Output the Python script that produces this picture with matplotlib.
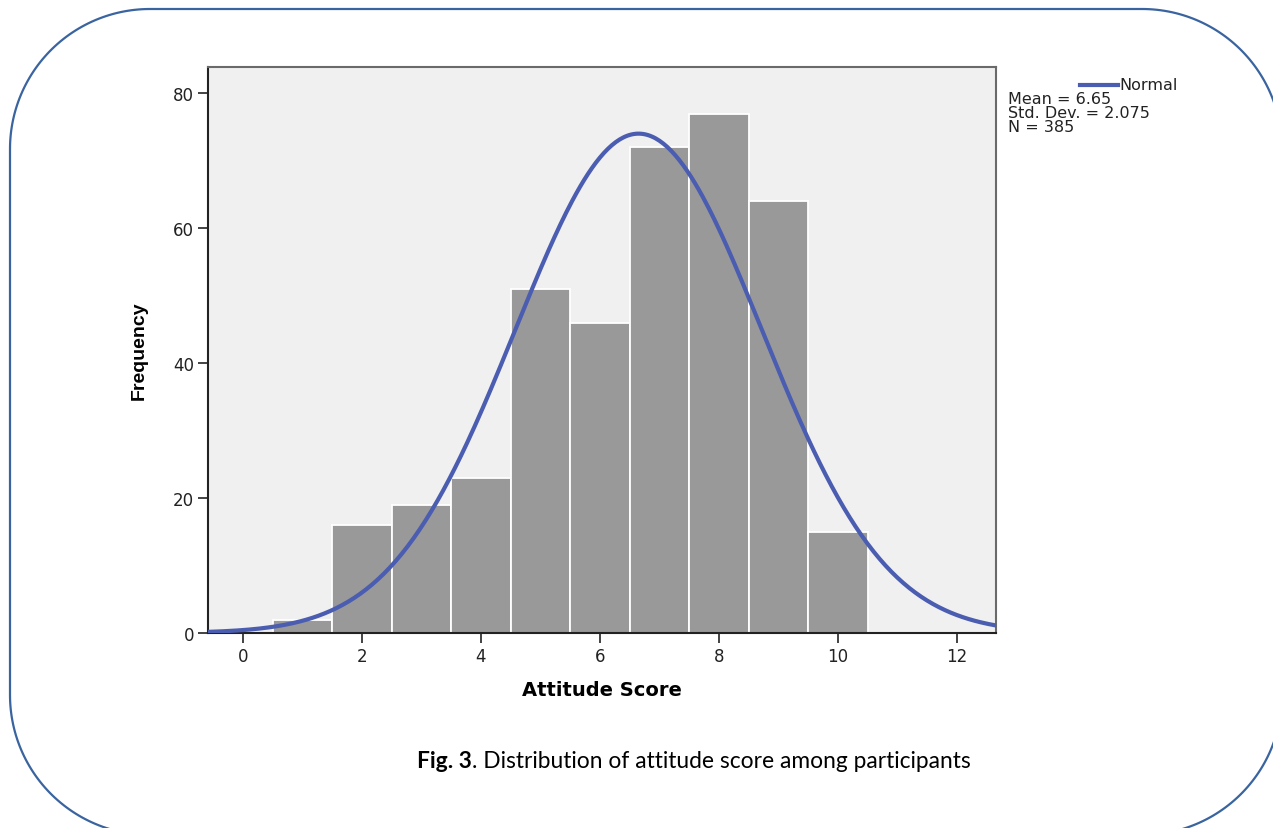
import numpy as np
import matplotlib
matplotlib.use("Agg")
import matplotlib.pyplot as plt
from matplotlib.patches import Polygon

# Data
scores = [1, 2, 3, 4, 5, 6, 7, 8, 9, 10]
frequency = [2, 16, 19, 23, 51, 46, 72, 77, 64, 15]
mean_val = 6.65
std_val = 2.075
n_val = 385
xticks = [0, 2, 4, 6, 8, 10, 12]
yticks = [0, 20, 40, 60, 80]
caption_bold = "Fig. 3"
caption_rest = ". Distribution of attitude score among participants"

W, H = 1273, 829
fig = plt.figure(figsize=(W / 100, H / 100), dpi=100)

# background axes in pixel coordinates (origin top-left) for the rounded border
bg = fig.add_axes([0, 0, 1, 1])
bg.set_xlim(0, W)
bg.set_ylim(H, 0)
bg.axis("off")
L, T, R, B, rad = 10, 10, 1282, 836, 140
pts = []
for (cx, cy, a0) in [(R - rad, T + rad, -90), (R - rad, B - rad, 0),
                     (L + rad, B - rad, 90), (L + rad, T + rad, 180)]:
    ang = np.deg2rad(np.linspace(a0, a0 + 90, 60))
    pts += list(zip(cx + rad * np.cos(ang), cy + rad * np.sin(ang)))
bg.add_patch(Polygon(pts, closed=True, fill=False, edgecolor="#3a64a0",
                     linewidth=1.6))

ax = fig.add_axes([208 / W, 1 - 634 / H, 788 / W, 566 / H])
ax.set_facecolor("#f0f0f0")
ax.bar(scores, frequency, width=1.0, color="#999999", edgecolor="white",
       linewidth=1.3, zorder=2)

xs = np.linspace(-0.6, 12.7, 400)
pdf = n_val * 1.0 / (std_val * np.sqrt(2 * np.pi)) * np.exp(-0.5 * ((xs - mean_val) / std_val) ** 2)
ax.plot(xs, pdf, color="#4a5db0", linewidth=3, zorder=3, solid_capstyle="butt")

ax.set_xlim(-0.59, 12.66)
ax.set_ylim(0, 83.9)
ax.set_xticks(xticks)
ax.set_yticks(yticks)
tick_font = "DejaVu Sans"
ax.set_xticklabels([str(t) for t in xticks], fontsize=12, fontfamily=tick_font, color="#222222")
ax.set_yticklabels([str(t) for t in yticks], fontsize=12, fontfamily=tick_font, color="#222222")
ax.tick_params(axis="both", direction="out", length=7, width=1.2, color="#222222", pad=3)
for s in ax.spines.values():
    s.set_color("#6a6a6a")
    s.set_linewidth(1.5)
ax.spines["left"].set_color("#222222")
ax.spines["bottom"].set_color("#222222")

ax.set_xlabel("Attitude Score", fontsize=14, fontweight="bold",
              fontfamily=tick_font, labelpad=11)
ax.set_ylabel("Frequency", fontsize=14, fontweight="bold",
              fontfamily=["Liberation Sans Narrow", "Liberation Sans", "DejaVu Sans"], labelpad=18)

# legend-like text
lfs = 11.5
fig.lines.append(plt.Line2D([1080 / W, 1118 / W], [1 - 86 / H, 1 - 86 / H],
                            transform=fig.transFigure, color="#4a5db0", linewidth=3))
fig.text(1119 / W, 1 - 86 / H, "Normal", fontsize=lfs, fontfamily=tick_font,
         va="center", ha="left", color="#222222")
fig.text(1008 / W, 1 - 100 / H, "Mean = %.2f" % mean_val, fontsize=lfs,
         fontfamily=tick_font, va="center", ha="left", color="#222222")
fig.text(1008 / W, 1 - 113.5 / H, "Std. Dev. = %.3f" % std_val, fontsize=lfs,
         fontfamily=tick_font, va="center", ha="left", color="#222222")
fig.text(1008 / W, 1 - 127 / H, "N = %d" % n_val, fontsize=lfs,
         fontfamily=tick_font, va="center", ha="left", color="#222222")

# caption: bold part + regular part, fitted to the reference width
cap_font = ["Lato", "Open Sans", "DejaVu Sans"]
renderer = fig.canvas.get_renderer()
fs = 16
tb = fig.text(0, 0, caption_bold, fontsize=fs, fontweight="bold", fontfamily=cap_font)
tr = fig.text(0, 0, caption_rest, fontsize=fs, fontfamily=cap_font)
wb = tb.get_window_extent(renderer).width
wr = tr.get_window_extent(renderer).width
scale = 556.0 / (wb + wr)
fs2 = fs * scale
tb.set_fontsize(fs2)
tr.set_fontsize(fs2)
wb = tb.get_window_extent(renderer).width
x0 = 417.0
ycap = 1 - 762 / H
tb.set_position((x0 / W, ycap))
tb.set_va("center")
tr.set_position(((x0 + wb) / W, ycap))
tr.set_va("center")

fig.savefig("out.png", dpi=100)
